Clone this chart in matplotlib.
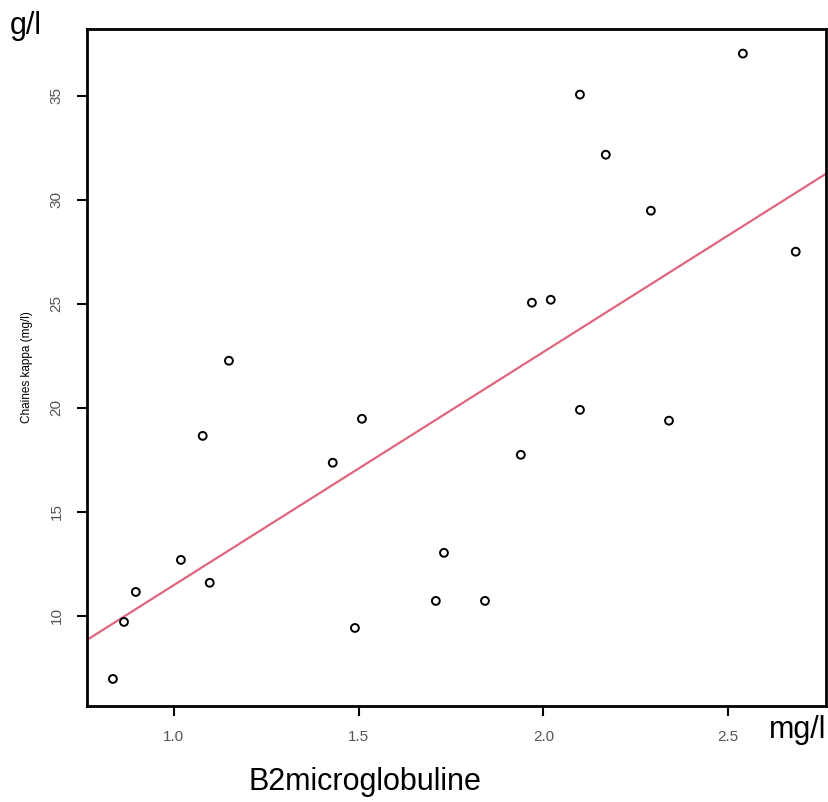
import numpy as np
import matplotlib.pyplot as plt

# values
b2m = [0.835, 0.865, 0.897, 1.019, 1.097, 1.078, 1.149, 1.430, 1.509, 1.490,
       1.709, 1.731, 1.842, 1.939, 1.969, 2.020, 2.099, 2.099, 2.169, 2.291,
       2.340, 2.540, 2.683]
kappa = [6.97, 9.71, 11.15, 12.69, 11.59, 18.65, 22.26, 17.36, 19.47, 9.42,
         10.72, 13.03, 10.72, 17.74, 25.05, 25.19, 19.90, 35.05, 32.16, 29.47,
         19.38, 37.02, 27.50]
fit_slope = 11.2
fit_intercept = 0.28
x_ticks = [1.0, 1.5, 2.0, 2.5]
y_ticks = [10, 15, 20, 25, 30, 35]

plt.rcParams['font.family'] = ['Liberation Sans', 'DejaVu Sans']

fig = plt.figure(figsize=(8.29, 8.02), dpi=100)
ax = fig.add_axes([0.105, 0.1197, 0.8914, 0.8441])

xlim = (0.765, 2.765)
ylim = (5.67, 38.2)

xs = np.array(xlim)
ax.plot(xs, fit_intercept + fit_slope * xs, color='#e0667f', linewidth=1.6, zorder=2)
ax.scatter(b2m, kappa, s=32, facecolors='none', edgecolors='black', linewidths=1.4, zorder=3)

ax.set_xlim(*xlim)
ax.set_ylim(*ylim)
ax.set_xticks(x_ticks)
ax.set_xticklabels(['%.1f' % v for v in x_ticks])
ax.set_yticks(y_ticks)
ax.set_yticklabels([str(v) for v in y_ticks], rotation=90, va='center')
ax.tick_params(axis='both', direction='out', length=7, width=1.5,
               labelsize=11, labelcolor='#555555', pad=10)

for s in ax.spines.values():
    s.set_linewidth(2)

ax.set_ylabel('Chaines kappa (mg/l)', fontsize=8.5, labelpad=12)

fig.text(0.012, 0.968, 'g/l', fontsize=22, ha='left', va='center')
fig.text(0.997, 0.09, 'mg/l', fontsize=22, ha='right', va='center')
fig.text(0.44, 0.025, 'B2microglobuline', fontsize=22, ha='center', va='center')

fig.savefig('out.png', dpi=100)
